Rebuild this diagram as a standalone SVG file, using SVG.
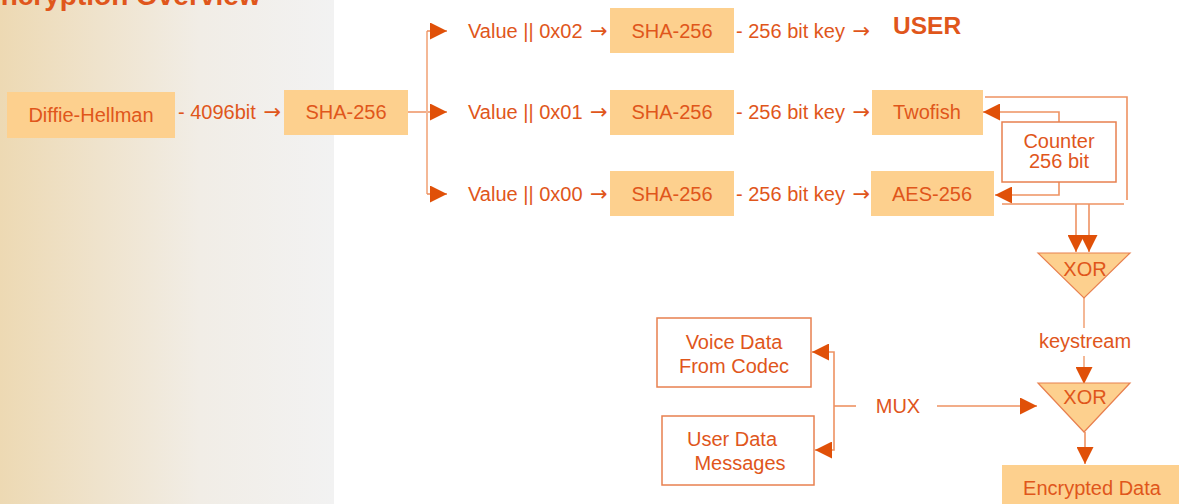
<svg xmlns="http://www.w3.org/2000/svg" width="1179" height="504" viewBox="0 0 1179 504">
<defs>
<linearGradient id="bg" x1="0" y1="0" x2="1" y2="0">
<stop offset="0" stop-color="#EDD9B3"/>
<stop offset="0.6" stop-color="#F1EDE6"/>
<stop offset="1" stop-color="#F2F2F2"/>
</linearGradient>
<marker id="ah" markerUnits="userSpaceOnUse" markerWidth="17" markerHeight="17" viewBox="0 0 17 17" refX="17" refY="8.5" orient="auto">
<path d="M0,0 L17,8.5 L0,17 Z" fill="#E05008"/>
</marker>
<style>
text{font-family:"Liberation Sans",Arial,sans-serif;font-size:20px;fill:#E0561B}
.c{text-anchor:middle}
.ar{font-family:"DejaVu Sans",sans-serif;font-size:21px}
.box{fill:#FDD08E}
.wbox{fill:#FFFFFF;stroke:#E8804F;stroke-width:1.5}
.ln{fill:none;stroke:#EE9262;stroke-width:1.6}
.lt{fill:none;stroke:#F4B896;stroke-width:2}
.arr{marker-end:url(#ah)}
.xor{fill:#FDD08E;stroke:#E8804F;stroke-width:1.2}
</style>
</defs>
<rect x="0" y="0" width="334" height="504" fill="url(#bg)"/>
<text x="-18" y="5" style="font-size:28px;font-weight:bold">Encryption Overview</text>

<g id="connectors">
<path class="ln arr" d="M408,112 H447"/>
<path class="lt" d="M427,31 V194"/>
<path class="ln arr" d="M427,31 H447"/>
<path class="ln arr" d="M427,194 H447"/>
<path class="ln arr" d="M1059,122 V112 H983"/>
<path class="ln arr" d="M1059,182 V195 H995"/>
<path class="ln" d="M985,97 H1127 V200"/>
<path class="ln" d="M1002,204 H1124"/>
<path class="ln arr" d="M1076,204 V252"/>
<path class="ln arr" d="M1089,204 V252"/>
<path class="lt" d="M1084,298 V328"/>
<path class="lt arr" d="M1084,356 V384"/>
<path class="ln arr" d="M1085,432 V464"/>
<path class="ln arr" d="M937,406 H1037"/>
<path class="ln" d="M856,406 H834"/>
<path class="ln arr" d="M834,406 V352 H812"/>
<path class="ln arr" d="M834,406 V450 H815"/>
</g>

<g id="diffie-hellman"><rect class="box" x="7" y="92" width="168" height="46"/><text class="c" x="91" y="122">Diffie-Hellman</text></g>
<g id="lbl-4096"><text x="178" y="119">- 4096bit <tspan class="ar" dx="2">→</tspan></text></g>
<g id="sha-main"><rect class="box" x="284" y="90" width="124" height="45"/><text class="c" x="346" y="119">SHA-256</text></g>

<g id="val02"><text x="468" y="38">Value || 0x02 <tspan class="ar" dx="2">→</tspan></text></g>
<g id="val01"><text x="468" y="119">Value || 0x01 <tspan class="ar" dx="2">→</tspan></text></g>
<g id="val00"><text x="468" y="201">Value || 0x00 <tspan class="ar" dx="2">→</tspan></text></g>

<g id="sha02"><rect class="box" x="610" y="8" width="124" height="45"/><text class="c" x="672" y="38">SHA-256</text></g>
<g id="sha01"><rect class="box" x="610" y="90" width="124" height="45"/><text class="c" x="672" y="119">SHA-256</text></g>
<g id="sha00"><rect class="box" x="610" y="171" width="124" height="45"/><text class="c" x="672" y="201">SHA-256</text></g>

<g id="key02"><text x="736" y="38">- 256 bit key <tspan class="ar" dx="2">→</tspan></text></g>
<g id="key01"><text x="736" y="119">- 256 bit key <tspan class="ar" dx="2">→</tspan></text></g>
<g id="key00"><text x="736" y="201">- 256 bit key <tspan class="ar" dx="2">→</tspan></text></g>

<g id="user"><text x="893" y="34" style="font-size:24.5px;font-weight:bold">USER</text></g>
<g id="twofish"><rect class="box" x="872" y="90" width="111" height="45"/><text class="c" x="927" y="119">Twofish</text></g>
<g id="aes"><rect class="box" x="871" y="171" width="123" height="45"/><text class="c" x="932" y="201">AES-256</text></g>
<g id="counter"><rect class="wbox" x="1002" y="122" width="114" height="60"/><text class="c" x="1059" y="148">Counter</text><text class="c" x="1059" y="168">256 bit</text></g>

<g id="xor1"><polygon class="xor" points="1038,253 1130,253 1084,298"/><text class="c" x="1085" y="276">XOR</text></g>
<g id="keystream"><text class="c" x="1085" y="348">keystream</text></g>
<g id="xor2"><polygon class="xor" points="1038,383 1130,383 1084,432"/><text class="c" x="1085" y="404">XOR</text></g>
<g id="encrypted"><rect class="box" x="1002" y="465" width="177" height="39"/><text class="c" x="1092" y="495">Encrypted Data</text></g>

<g id="mux"><text class="c" x="898" y="413">MUX</text></g>
<g id="voice"><rect class="wbox" x="657" y="318" width="154" height="69"/><text class="c" x="734" y="349">Voice Data</text><text class="c" x="734" y="373">From Codec</text></g>
<g id="userdata"><rect class="wbox" x="662" y="416" width="152" height="69"/><text class="c" x="732" y="446">User Data</text><text class="c" x="740" y="470">Messages</text></g>
</svg>
